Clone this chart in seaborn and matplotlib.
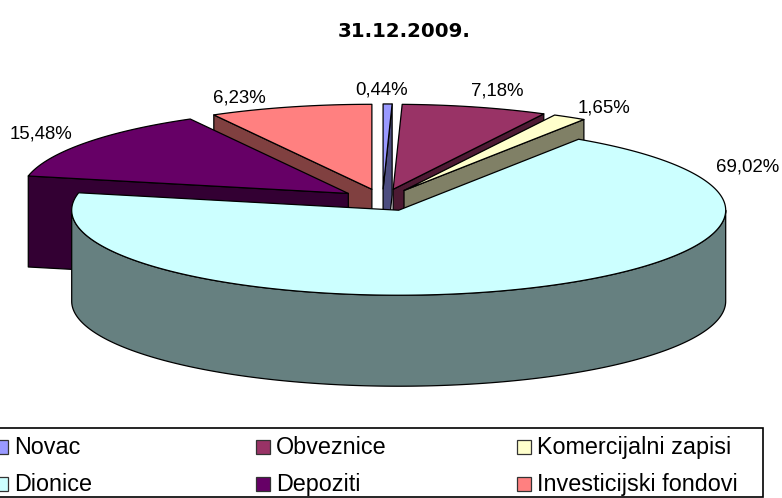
import numpy as np
import seaborn as sns
from matplotlib import pyplot as plt
from matplotlib.patches import Polygon, Rectangle

title = "31.12.2009."
categories = ["Novac", "Obveznice", "Komercijalni zapisi",
              "Dionice", "Depoziti", "Investicijski fondovi"]
# shares as the wedges are drawn in the picture (last two differ from their printed labels)
drawn_shares = [0.44, 7.18, 1.65, 69.02, 13.68, 8.03]
value_labels = ["0,44%", "7,18%", "1,65%", "69,02%", "15,48%", "6,23%"]
slice_colors = ["#9999FF", "#993366", "#FFFFCC", "#CCFFFF", "#660066", "#FF8080"]

# layout, in pixels of the 782x498 figure
center = (382.5, 200)
rx, ry, depth = 327, 85, 91
explode = 0.13
start_angle = 0
draw_order = [5, 0, 1, 2, 4, 3]
label_xy = [(382, 90), (497, 91), (604, 108), (748, 167), (41, 134), (239, 98)]
legend_x = [-6, 256, 517]
legend_y = [447, 484]


def rim(apex, angles):
    """Points on the top ellipse, angles clockwise from 12 o'clock."""
    rad = np.radians(angles)
    return np.column_stack([apex[0] + rx * np.sin(rad), apex[1] - ry * np.cos(rad)])


def draw_slice(ax, start, end, color):
    """Draw one exploded wedge: visible side faces first, then the top."""
    mid = (start + end) / 2
    rad = np.radians(mid)
    apex = (center[0] + explode * rx * np.sin(rad), center[1] - explode * ry * np.cos(rad))
    side = tuple(np.array(color) * 0.5)
    drop = np.array([0, depth])
    style = dict(edgecolor="black", linewidth=0.9, joinstyle="round")

    # radial face that looks at the viewer
    if end - start < 180:
        edge = end if mid < 180 else start
        rim_pt = rim(apex, [edge])[0]
        face = [apex, rim_pt, rim_pt + drop, np.array(apex) + drop]
        ax.add_patch(Polygon(face, facecolor=side, **style))

    # outer wall on the front half
    front_start, front_end = max(start, 90), min(end, 270)
    if front_start < front_end:
        top_arc = rim(apex, np.linspace(front_start, front_end, 200))
        wall = np.vstack([top_arc, (top_arc + drop)[::-1]])
        ax.add_patch(Polygon(wall, facecolor=side, **style))

    arc = rim(apex, np.linspace(start, end, max(int(end - start) * 2, 4)))
    ax.add_patch(Polygon(np.vstack([apex, arc]), facecolor=color, **style))


def main():
    sns.set_theme(style="white")
    plt.rcParams["font.family"] = ["Liberation Sans", "DejaVu Sans"]
    palette = sns.color_palette(slice_colors)

    fig = plt.figure(figsize=(7.82, 4.98), dpi=100)
    ax = fig.add_axes([0, 0, 1, 1])
    ax.set_xlim(0, 782)
    ax.set_ylim(498, 0)
    ax.axis("off")

    edges = start_angle + np.concatenate([[0], np.cumsum(drawn_shares)]) * 3.6
    for ind in draw_order:
        draw_slice(ax, edges[ind], edges[ind + 1], palette[ind])

    ax.text(404, 31, title, ha="center", va="center", fontsize=14.2,
            fontweight="bold", family="DejaVu Sans", color="black")
    for (x, y), label in zip(label_xy, value_labels):
        ax.text(x, y, label, ha="center", va="center", fontsize=13.4, color="black")

    # legend box
    ax.add_patch(Rectangle((-2, 428), 765, 69, facecolor="white",
                           edgecolor="black", linewidth=1.2))
    for ind, name in enumerate(categories):
        x = legend_x[ind % 3]
        y = legend_y[ind // 3]
        ax.add_patch(Rectangle((x, y - 7), 14, 14, facecolor=palette[ind],
                               edgecolor="#333333", linewidth=0.9))
        ax.text(x + 20, y, name, ha="left", va="center", fontsize=16.8, color="black")

    sns.despine(left=True, bottom=True)
    fig.savefig("out.png", dpi=100)
    plt.close(fig)


if __name__ == "__main__":
    main()
